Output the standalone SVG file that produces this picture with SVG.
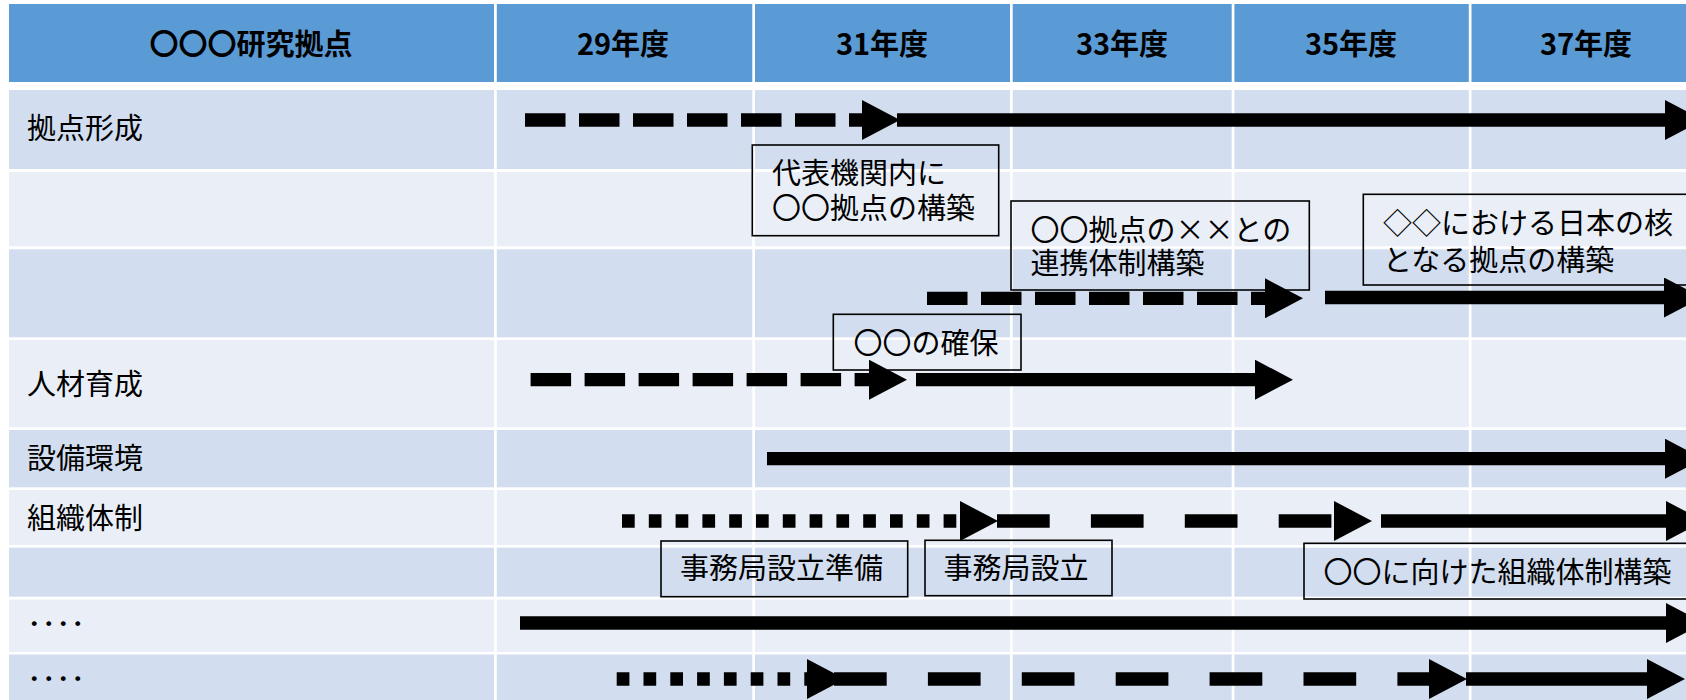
<svg xmlns="http://www.w3.org/2000/svg" width="1686" height="700" viewBox="0 0 1686 700">
<style>
  .hdr { fill: #5B9BD5; }
  .dk { fill: #D2DEEF; }
  .lt { fill: #EAEFF7; }
  .gl { fill: #FFFFFF; }
  text { font-family: "Noto Sans CJK JP", "Noto Sans", sans-serif; font-size: 29px; fill: #000; }
  .ht { font-weight: bold; text-anchor: middle; }
  .box { fill: none; stroke: #000; stroke-width: 1.6; }
  .ln { stroke: #000; stroke-width: 13.3; fill: none; stroke-linecap: butt; }
  .dash { stroke-dasharray: 40.5 13.5; }
  .dot { stroke-dasharray: 12.7 14.1; }
  .ldash { stroke-dasharray: 52.7 41.2; }
</style>
<defs>
  <marker id="ah" markerUnits="userSpaceOnUse" markerWidth="38" markerHeight="40" viewBox="0 0 38 40" refX="0" refY="20" orient="auto">
    <path d="M0,0 L38,20 L0,40 Z" fill="#000"/>
  </marker>
</defs>
<rect x="0" y="0" width="1686" height="700" fill="#FFFFFF"/>
<g id="table">
  <rect class="hdr" x="9" y="4" width="1677" height="78"/>
  <rect class="dk" x="9" y="90" width="1677" height="79"/>
  <rect class="lt" x="9" y="172" width="1677" height="74.3"/>
  <rect class="dk" x="9" y="249.3" width="1677" height="88"/>
  <rect class="lt" x="9" y="340" width="1677" height="87.3"/>
  <rect class="dk" x="9" y="430" width="1677" height="57.3"/>
  <rect class="lt" x="9" y="490" width="1677" height="55"/>
  <rect class="dk" x="9" y="547.7" width="1677" height="49"/>
  <rect class="lt" x="9" y="599.5" width="1677" height="52.5"/>
  <rect class="dk" x="9" y="654.5" width="1677" height="45.5"/>
  <rect class="gl" x="494" y="0" width="2.8" height="700"/>
  <rect class="gl" x="752.3" y="0" width="2.7" height="700"/>
  <rect class="gl" x="1010" y="0" width="2.7" height="700"/>
  <rect class="gl" x="1231.7" y="0" width="2.7" height="700"/>
  <rect class="gl" x="1468.8" y="0" width="2.7" height="700"/>
</g>
<g id="header-labels">
  <text class="ht" x="251" y="55">〇〇〇研究拠点</text>
  <text class="ht" x="623" y="55">29年度</text>
  <text class="ht" x="882" y="55">31年度</text>
  <text class="ht" x="1122" y="55">33年度</text>
  <text class="ht" x="1351" y="55">35年度</text>
  <text class="ht" x="1586" y="55">37年度</text>
</g>
<g id="row-labels">
  <text x="27" y="138.5">拠点形成</text>
  <text x="27" y="395">人材育成</text>
  <text x="27" y="469">設備環境</text>
  <text x="27" y="528.5">組織体制</text>
  <text x="27" y="635">････</text>
  <text x="27" y="689.5">････</text>
</g>
<g id="connectors">
  <line class="ln dash" x1="525" y1="120" x2="862" y2="120" marker-end="url(#ah)"/>
  <line class="ln" x1="897" y1="120" x2="1665" y2="120" marker-end="url(#ah)"/>
  <line class="ln dash" x1="927" y1="298.3" x2="1265" y2="298.3" marker-end="url(#ah)"/>
  <line class="ln" x1="1325" y1="297.5" x2="1664" y2="297.5" marker-end="url(#ah)"/>
  <line class="ln dash" x1="530.6" y1="379.7" x2="869" y2="379.7" marker-end="url(#ah)"/>
  <line class="ln" x1="916" y1="379.7" x2="1255" y2="379.7" marker-end="url(#ah)"/>
  <line class="ln" x1="767" y1="458.7" x2="1665" y2="458.7" marker-end="url(#ah)"/>
  <line class="ln dot" x1="622" y1="521" x2="960" y2="521" marker-end="url(#ah)"/>
  <line class="ln ldash" x1="997" y1="521" x2="1334" y2="521" marker-end="url(#ah)"/>
  <line class="ln" x1="1381" y1="521" x2="1666" y2="521" marker-end="url(#ah)"/>
  <line class="ln" x1="520" y1="623" x2="1666" y2="623" marker-end="url(#ah)"/>
  <line class="ln dot" x1="616.7" y1="679" x2="807" y2="679" marker-end="url(#ah)"/>
  <line class="ln ldash" x1="834" y1="679" x2="1429" y2="679" marker-end="url(#ah)"/>
  <line class="ln" x1="1466" y1="679" x2="1647" y2="679" marker-end="url(#ah)"/>
</g>
<g id="box-daihyo">
  <rect class="box" x="752.3" y="145" width="246.4" height="90.7"/>
  <text x="772" y="183.5">代表機関内に<tspan x="772" dy="35.5">〇〇拠点の構築</tspan></text>
</g>
<g id="box-renkei">
  <rect class="box" x="1011" y="201" width="298.3" height="89"/>
  <text x="1030.5" y="241">〇〇拠点の××との<tspan x="1030.5" dy="33.3">連携体制構築</tspan></text>
</g>
<g id="box-kaku">
  <rect class="box" x="1363.3" y="194.3" width="340" height="90.7"/>
  <text x="1383" y="234.3">◇◇における日本の核<tspan x="1383" dy="36.7">となる拠点の構築</tspan></text>
</g>
<g id="box-kakuho">
  <rect class="box" x="833.3" y="314.3" width="187.7" height="55.7"/>
  <text x="853.5" y="354.3">〇〇の確保</text>
</g>
<g id="box-jimu-junbi">
  <rect class="box" x="661" y="541" width="246.7" height="55.7"/>
  <text x="680" y="579.3">事務局設立準備</text>
</g>
<g id="box-jimu">
  <rect class="box" x="925" y="540.3" width="187" height="55.4"/>
  <text x="943.5" y="579">事務局設立</text>
</g>
<g id="box-soshiki">
  <rect class="box" x="1304" y="543.3" width="400" height="55.7"/>
  <text x="1323.5" y="582.7">〇〇に向けた組織体制構築</text>
</g>
</svg>
